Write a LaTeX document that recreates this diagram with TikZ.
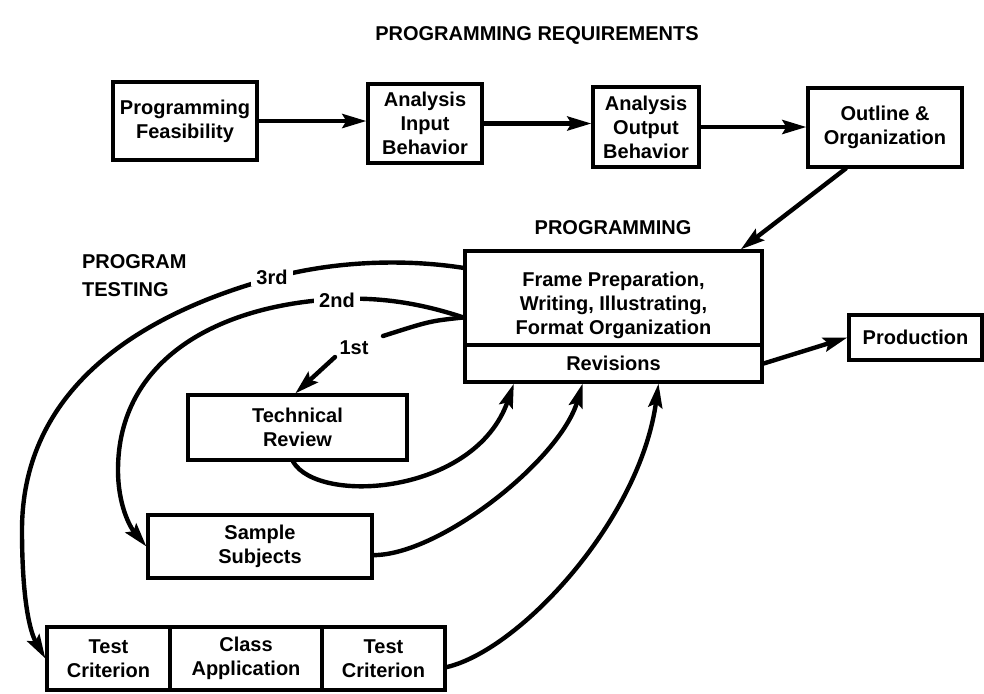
\documentclass[tikz,border=0pt]{standalone}
\usepackage{fontspec}
\setmainfont{Liberation Sans}
\usetikzlibrary{arrows.meta,calc}
\begin{document}
\begin{tikzpicture}[x=0.5pt,y=-0.5pt,
  font=\bfseries,
  box/.style={draw, line width=1.6pt, align=center, inner sep=1pt},
  conn/.style={line width=2.2pt, line cap=round},
  arr/.style={conn, -{Stealth[length=12pt,width=7pt,inset=2pt]}},
  lbl/.style={fill=white, inner xsep=2.5pt, inner ysep=1pt},
  ]
\useasboundingbox (0,0) rectangle (984,693);

% labels
\node (title) at (537,35) {PROGRAMMING REQUIREMENTS};
\node (lprog) at (613,228) {PROGRAMMING};
\node[align=left, anchor=west] (ltest) at (75,276) {PROGRAM\\[2pt]TESTING};

% top row
\node[box, minimum width=72pt, minimum height=39pt] (b1) at (185,121) {Programming\\Feasibility};
\node[box, minimum width=57pt, minimum height=39.5pt] (b2) at (425,123.5) {Analysis\\Input\\Behavior};
\node[box, minimum width=53pt, minimum height=40pt] (b3) at (646,127) {Analysis\\Output\\Behavior};
\node[box, minimum width=77pt, minimum height=39.5pt] (b4) at (885,127.5) {Outline \&\\Organization};

% programming block
\node[box, minimum width=148.5pt, minimum height=47pt] (prog) at (613.5,298)
  {\rule{0pt}{15pt}Frame Preparation,\\Writing, Illustrating,\\Format Organization};
\node[box, minimum width=148.5pt, minimum height=18.5pt] (rev) at (613.5,363.5) {Revisions};
\node[box, minimum width=66.5pt, minimum height=22.5pt] (prod) at (915.5,337.5) {Production};

% testing boxes
\node[box, minimum width=109.5pt, minimum height=32.5pt] (tr) at (297.5,427.5) {Technical\\Review};
\node[box, minimum width=112pt, minimum height=31.5pt] (ss) at (260,546.5) {Sample\\Subjects};
\node[box, minimum width=61.5pt, minimum height=31.5pt] (tc1) at (108.5,658.5) {Test\\Criterion};
\node[box, minimum width=76pt, minimum height=31.5pt] (ca) at (246,658.5) {Class\\Application};
\node[box, minimum width=61.5pt, minimum height=31.5pt] (tc2) at (383.5,658.5) {Test\\Criterion};

% top-row connectors
\draw[arr] (b1.east) -- (b1.east -| b2.west);
\draw[arr] (b2.east) -- (b2.east -| b3.west);
\draw[arr] (b3.east) -- (b3.east -| b4.west);
\coordinate (o1) at ($(b4.south west)!0.25!(b4.south east)$);
\coordinate (p1) at ($(prog.north west)!0.924!(prog.north east)$);
\draw[arr] (o1) -- (p1);
\draw[arr] (rev.east) -- (prod.west);

% outgoing test loops
\coordinate (s3) at ($(prog.north west)!0.19!(prog.south west)$);
\coordinate (s12) at ($(prog.north west)!0.7!(prog.south west)$);
\draw[arr] (s3) .. controls (400,258) and (330,262) .. (272,278)
  .. controls (122,319) and (22,400) .. (22,530)
  .. controls (22,600) and (30,632) .. (tc1.west);
\draw[arr] (s12) .. controls (420,303) and (380,297) .. (337,299)
  .. controls (217,305) and (118,360) .. (118,470)
  .. controls (118,505) and (130,527) .. (ss.west);
\coordinate (c1a) at (383,336);
\coordinate (c1b) at (335,357);
\coordinate (tr1) at ($(tr.north west)!0.49!(tr.north east)$);
\draw[conn] (s12) .. controls (430,321) .. (c1a);
\draw[arr] (c1b) -- (tr1);

\node[lbl] (l3) at (272,277) {3rd};
\node[lbl] (l2) at (337,300) {2nd};
\node (l1) at (354,348) {1st};

% return loops
\coordinate (t0) at ($(tr.south west)!0.48!(tr.south east)$);
\coordinate (r1) at ($(rev.south west)!0.168!(rev.south east)$);
\draw[arr] (t0) .. controls (318,505) and (475,495) .. (r1);
\coordinate (s0) at ($(ss.north east)!0.63!(ss.south east)$);
\coordinate (r2) at ($(rev.south west)!0.397!(rev.south east)$);
\draw[arr] (s0) .. controls (440,555) and (560,460) .. (r2);
\coordinate (c0) at ($(tc2.north east)!0.63!(tc2.south east)$);
\coordinate (r3) at ($(rev.south west)!0.65!(rev.south east)$);
\draw[arr] (c0) .. controls (520,650) and (640,520) .. (r3);
\end{tikzpicture}
\end{document}
